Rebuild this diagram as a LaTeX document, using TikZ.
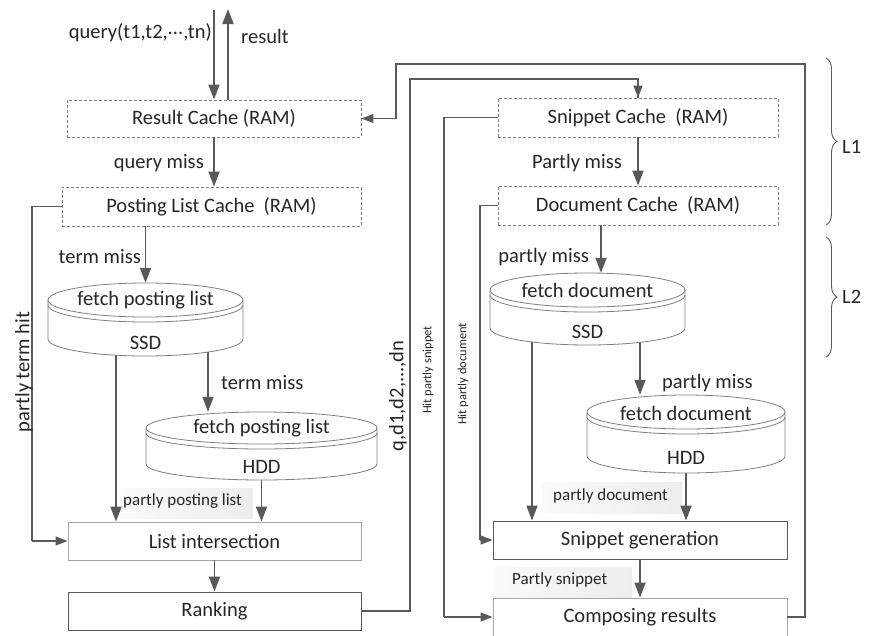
\documentclass[tikz,border=0pt]{standalone}
\usepackage{fontspec}
\setmainfont{Carlito}
\usetikzlibrary{arrows.meta,decorations.pathreplacing,calc}
\definecolor{ln}{HTML}{595959}
\definecolor{bd}{HTML}{7F7F7F}
\definecolor{lbd}{HTML}{A6A6A6}
\definecolor{tx}{HTML}{262626}
\newcommand\drawcyl[5]{% cx, top, rx, ry, H
  \path[draw=bd,line width=0.8pt,fill=white]
    ({#1-#3},{#2+#4}) -- ({#1-#3},{#2+#5-#4})
    arc[start angle=180,end angle=360,x radius=#3pt,y radius=#4pt]
    -- ({#1+#3},{#2+#4})
    arc[start angle=0,end angle=180,x radius=#3pt,y radius=#4pt] -- cycle;
  \draw[bd,line width=0.8pt] ({#1-#3},{#2+#4}) arc[start angle=180,end angle=360,x radius=#3pt,y radius=#4pt];
  \draw[bd,line width=0.8pt] ({#1-#3},{#2+#4+5}) arc[start angle=180,end angle=360,x radius=#3pt,y radius=#4pt];
}
\tikzset{
  txt/.style={text=tx,font=\fontsize{20.5}{24}\selectfont,inner sep=0pt},
  smalltxt/.style={text=tx,font=\fontsize{17}{20}\selectfont,inner sep=0pt},
  tinytxt/.style={text=tx,font=\fontsize{12.5}{15}\selectfont,inner sep=0pt,rotate=90},
  cachebox/.style={draw=bd,dashed,dash pattern=on 3pt off 2pt,line width=0.8pt,txt,inner sep=0pt},
  lightbox/.style={draw=lbd,line width=0.9pt,txt,inner sep=0pt},
  darkbox/.style={draw=ln,line width=0.9pt,txt,inner sep=0pt},
  cylbox/.style={inner sep=0pt,draw=none},
  arr/.style={draw=ln,line width=1.8pt,-{Triangle[length=15pt,width=11pt]}},
  route/.style={draw=ln,line width=1.3pt},
  routearr/.style={draw=ln,line width=1.3pt,-{Triangle[length=12pt,width=9pt]}},
  lblbg/.style={left color=black!2,right color=black!7,draw=none},
  brc/.style={draw=ln,line width=0.9pt,decorate,decoration={brace,amplitude=11pt}}
}
\begin{document}
\begin{tikzpicture}[x=1pt,y=-1pt]
\useasboundingbox (0,0) rectangle (869,635);
% label backgrounds
\fill[lblbg] (120,488) rectangle (253,518);
\fill[lblbg] (542,482) rectangle (682,513);
\fill[lblbg] (493,567) rectangle (632,597);
% boxes
\node[cachebox,minimum width=294pt,minimum height=37pt] (rc) at (214,118.5) {Result Cache (RAM)};
\node[cachebox,minimum width=299pt,minimum height=39pt] (plc) at (211.5,206.5) {Posting List Cache\ \ (RAM)};
\node[lightbox,minimum width=293pt,minimum height=38pt] (li) at (214.5,541) {List intersection};
\node[darkbox,minimum width=293pt,minimum height=38pt] (rk) at (214.5,611) {Ranking};
\node[cachebox,minimum width=280pt,minimum height=39pt] (sc) at (638,117.5) {Snippet Cache\ \ (RAM)};
\node[cachebox,minimum width=280pt,minimum height=39pt] (dc) at (638,205.5) {Document Cache\ \ (RAM)};
\node[darkbox,minimum width=294pt,minimum height=38pt] (sg) at (640,540) {Snippet generation};
\node[lightbox,minimum width=294pt,minimum height=38pt] (cr) at (640,617) {Composing results};
% cylinder placeholders
\node[cylbox,minimum width=195pt,minimum height=73pt] (c1) at (145.5,319.5) {};
\node[cylbox,minimum width=231pt,minimum height=68pt] (c2) at (261.5,446) {};
\node[cylbox,minimum width=195pt,minimum height=72pt] (c3) at (587.5,309) {};
\node[cylbox,minimum width=198pt,minimum height=78pt] (c4) at (686,434) {};
% helper coordinates
\coordinate (qtop) at (214,10);
\coordinate (rtop) at (228,9);
\coordinate (x1) at (208,0);
\coordinate (x2) at (116,0);
\coordinate (x3) at (601,0);
\coordinate (x4) at (640,0);
\coordinate (x5) at (532,0);
\coordinate (rA) at (410,79);
\coordinate (rB) at (396,64);
\coordinate (rBr) at (805,64);
\coordinate (rC) at (32,0);
\coordinate (rD) at (444,0);
\coordinate (rE) at (480,0);
% connectors
\draw[arr] (qtop) -- (rc.north);
\draw[arr] (rtop |- rc.north) -- (rtop);
\draw[arr] (rc.south) -- (rc.south |- plc.north);
\draw[arr] (c1.north |- plc.south) -- (c1.north);
\draw[arr] (x1 |- c1.center) -- (x1 |- c2.north);
\draw[arr] (x2 |- c1.center) -- (x2 |- li.north);
\draw[arr] (c2.center) -- (c2.center |- li.north);
\draw[arr] (li.south) -- (rk.north);
\draw[arr] (sc.south) -- (dc.north);
\draw[arr] (x3 |- dc.south) -- (x3 |- c3.north);
\draw[arr] (x4 |- c3.center) -- (x4 |- c4.north);
\draw[arr] (x5 |- c3.center) -- (x5 |- sg.north);
\draw[arr] (c4.center) -- (c4.center |- sg.north);
\draw[arr] (sg.south -| x4) -- (cr.north -| x4);
% routing lines
\draw[route] (rk.east) -| (rA) -| (sc.north);
\draw[routearr] (rA -| sc.north) -- (sc.north);
\draw[route] (cr.east) -| (rBr) -- (rB) |- (rc.east);
\draw[routearr] (rB |- rc.east) -- (rc.east);
\draw[route] (plc.west) -| (rC |- li.west);
\draw[routearr] (rC |- li.west) -- (li.west);
\draw[route] (sc.west) -| (rD |- cr.west);
\draw[routearr] (rD |- cr.west) -- (cr.west);
\draw[route] (dc.west) -| (rE |- sg.west);
\draw[routearr] (rE |- sg.west) -- (sg.west);
% cylinders
\drawcyl{145.5}{283}{97.5}{17}{73}
\drawcyl{261.5}{412}{115.5}{16}{68}
\drawcyl{587.5}{273}{97.5}{17}{72}
\drawcyl{686}{395}{99}{17}{78}
\node[txt] (c1t) at (145.5,300) {fetch posting list};
\node[txt] (c1b) at (145.5,343) {SSD};
\node[txt] (c2t) at (261.5,428) {fetch posting list};
\node[txt] (c2b) at (261.5,467) {HDD};
\node[txt] (c3t) at (587.5,290) {fetch document};
\node[txt] (c3b) at (587.5,332) {SSD};
\node[txt] (c4t) at (686,413) {fetch document};
\node[txt] (c4b) at (686,458) {HDD};
% labels
\node[txt,anchor=east] (lq) at (212,33) {query(t1,t2,\raisebox{0.22em}{...},tn)};
\node[txt,anchor=west] (lr) at (241,36) {result};
\node[txt,anchor=east] (lqm) at (204,163) {query miss};
\node[txt,anchor=east] (ltm1) at (141,257) {term miss};
\node[txt,anchor=west] (ltm2) at (221,383) {term miss};
\node[smalltxt,anchor=west] (lppl) at (123,501) {partly posting list};
\node[txt,anchor=east] (lpm1) at (622,163) {Partly miss};
\node[txt,anchor=east] (lpm2) at (589,257) {partly miss};
\node[txt,anchor=west] (lpm3) at (662,383) {partly miss};
\node[smalltxt,anchor=west] (lpd) at (553,496) {partly document};
\node[smalltxt,anchor=west] (lps) at (512,580) {Partly snippet};
\node[txt,rotate=90] (lpth) at (24,372) {partly term hit};
\node[txt,rotate=90] (lqd) at (398,396) {q,d1,d2,...,dn};
\node[tinytxt] (lhs) at (428,370) {Hit partly snippet};
\node[tinytxt] (lhd) at (463,374) {Hit partly document};
% braces
\draw[brc] (826,58) -- (826,225);
\draw[brc] (826,237) -- (826,357);
\node[txt,anchor=west] (l1) at (842,147) {L1};
\node[txt,anchor=west] (l2) at (842,297) {L2};
\end{tikzpicture}
\end{document}
